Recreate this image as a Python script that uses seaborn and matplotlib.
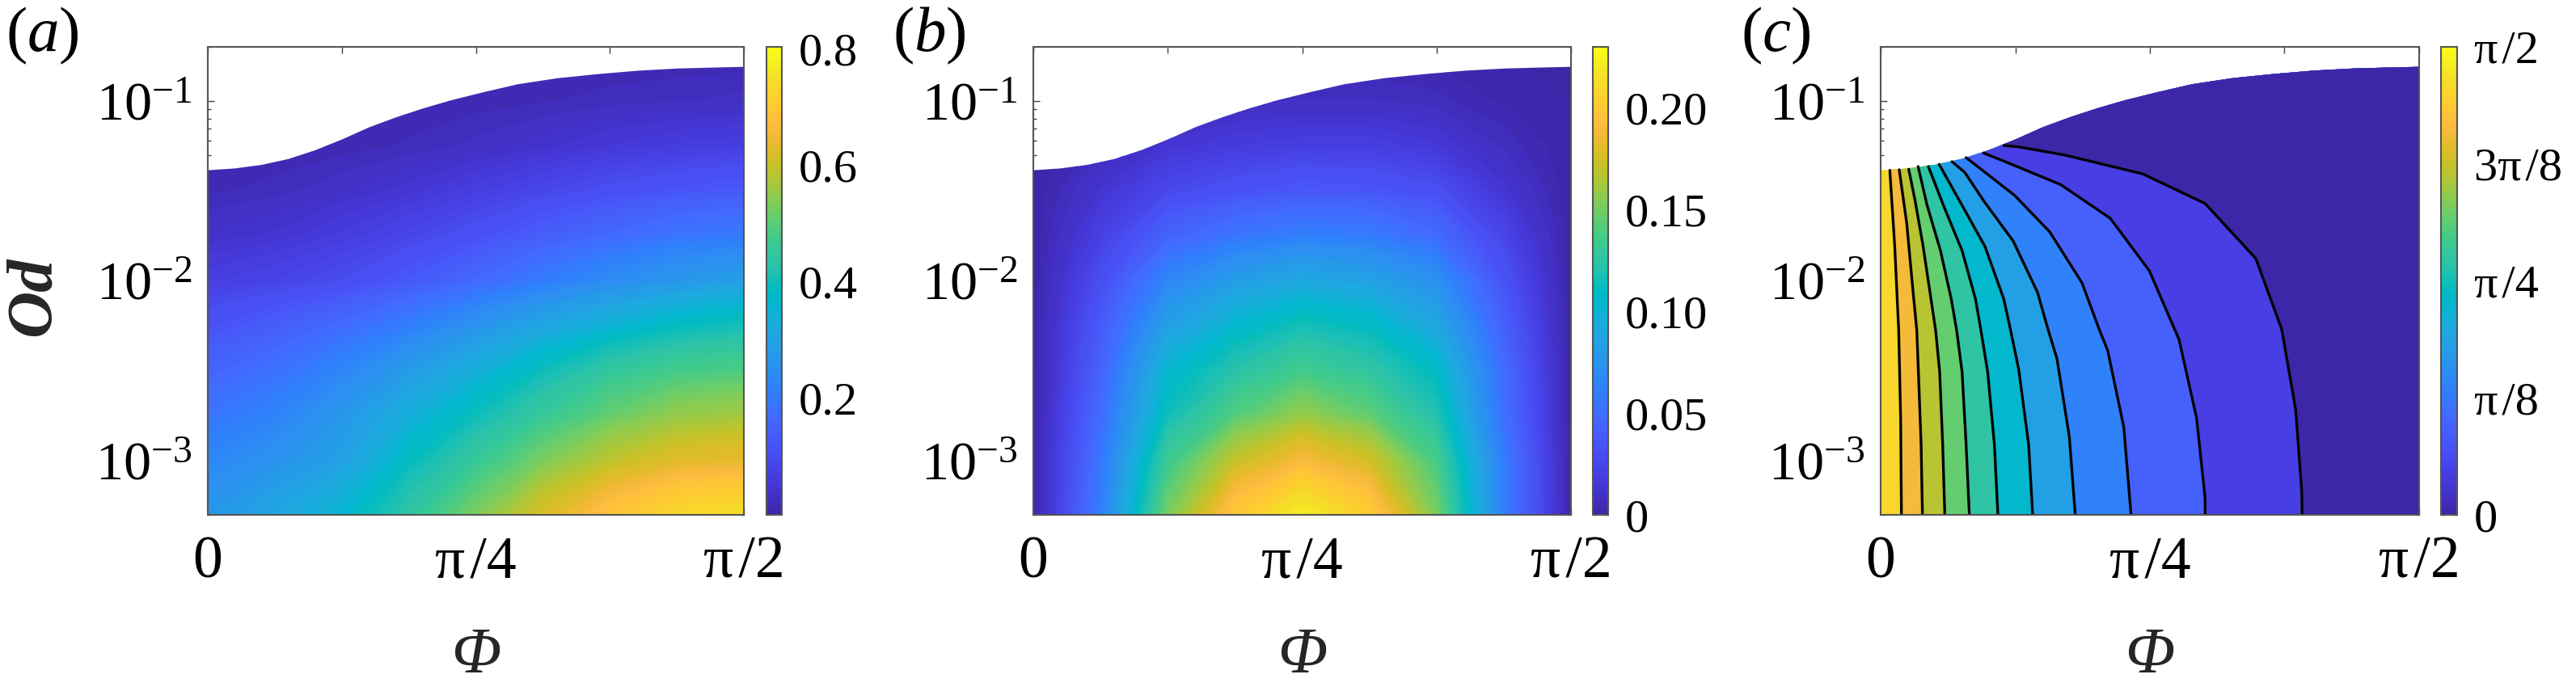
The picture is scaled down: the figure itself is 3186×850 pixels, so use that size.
import numpy as np
import matplotlib
matplotlib.use("Agg")
import matplotlib.pyplot as plt
import seaborn as sns
from matplotlib.colors import LinearSegmentedColormap, Normalize
from matplotlib.cm import ScalarMappable
from matplotlib.patches import Polygon
from matplotlib.ticker import LogLocator, NullFormatter

# ---------- data ----------
# phi is in units of pi/2, log_od is log10(Od)
grid_phi = [0, .125, .25, .375, .5, .625, .75, .875, 1]
grid_log_od = [-3.301, -3.0, -2.745, -2.495, -2.252, -2.0, -1.745, -1.495, -1.252, -1.0, -0.699]

field_a = [
    [.27, .31, .36, .44, .53, .62, .69, .735, .75],
    [.23, .255, .295, .385, .455, .53, .59, .63, .64],
    [.19, .22, .27, .335, .395, .455, .51, .55, .565],
    [.155, .18, .225, .28, .335, .395, .445, .475, .485],
    [.115, .14, .17, .21, .26, .31, .35, .385, .405],
    [.07, .082, .10, .13, .165, .205, .24, .27, .29],
    [.038, .047, .065, .085, .11, .14, .165, .19, .20],
    [.015, .022, .035, .05, .068, .088, .105, .12, .13],
    [.005, .008, .012, .02, .03, .042, .055, .065, .07],
    [.002, .003, .005, .008, .012, .017, .022, .026, .03],
    [.001, .001, .001, .002, .002, .002, .003, .003, .003],
]
field_b = [
    [0, .06, .151, .20, .222, .204, .151, .06, 0],
    [0, .055, .133, .171, .19, .175, .137, .059, 0],
    [0, .049, .114, .141, .158, .145, .12, .052, 0],
    [0, .043, .103, .122, .135, .126, .108, .049, 0],
    [0, .038, .084, .104, .116, .109, .09, .042, 0],
    [0, .03, .065, .081, .09, .085, .072, .034, 0],
    [0, .021, .043, .054, .06, .058, .048, .024, 0],
    [0, .013, .026, .032, .036, .035, .03, .014, 0],
    [0, .006, .014, .018, .02, .02, .016, .007, 0],
    [0, .002, .005, .007, .008, .008, .006, .002, 0],
    [0, 0, 0, 0, 0, 0, 0, 0, 0],
]

boundary_phi = [0, .050, .1006, .151, .201, .251, .302, .352, .402, .4525, .513,
                .578, .653, .729, .804, .879, .955, 1]
boundary_log_od = [-1.385, -1.375, -1.355, -1.322, -1.273, -1.213, -1.145, -1.090, -1.041, -.997, -.952,
                   -.907, -.873, -.850, -.831, -.819, -.813, -.810]

# contour lines of panel (c), left to right
c1_phi = [.0386, .0371, .0335, .0260, .0170]
c1_log = [-3.301, -2.761, -2.275, -1.801, -1.385]
c2_phi = [.0776, .0751, .0701, .0671, .0586, .0485, .0345]
c2_log = [-3.301, -2.910, -2.506, -2.275, -2.011, -1.682, -1.382]
c3_phi = [.1191, .1152, .1096, .1021, .0935, .0785, .0635, .0521]
c3_log = [-3.301, -2.910, -2.506, -2.275, -2.101, -1.801, -1.547, -1.379]
c4_phi = [.1647, .1587, .1512, .1411, .1311, .1111, .0860, .0695]
c4_log = [-3.301, -2.910, -2.506, -2.275, -2.101, -1.832, -1.577, -1.364]
c5_phi = [.2177, .2112, .1987, .1862, .1761, .1512, .1161, .0886]
c5_log = [-3.301, -2.910, -2.506, -2.275, -2.101, -1.832, -1.577, -1.364]
c6_phi = [.2823, .2748, .2563, .2413, .2287, .1937, .1562, .1086]
c6_log = [-3.301, -2.910, -2.491, -2.275, -2.101, -1.809, -1.607, -1.352]
c7_phi = [.3614, .3503, .3273, .3113, .2913, .2462, .1911, .1562, .1326]
c7_log = [-3.301, -2.865, -2.431, -2.275, -2.064, -1.779, -1.554, -1.397, -1.337]
c8_phi = [.4650, .4515, .4215, .4065, .3739, .3138, .2488, .1911, .1587]
c8_log = [-3.301, -2.813, -2.386, -2.275, -2.011, -1.727, -1.525, -1.390, -1.315]
c9_phi = [.6026, .6026, .5866, .5541, .4990, .4264, .3338, .2312, .1911]
c9_log = [-3.301, -3.210, -2.761, -2.326, -1.944, -1.652, -1.464, -1.337, -1.289]
c10_phi = [.7827, .7818, .7707, .7447, .6967, .6026, .4865, .3413, .2563, .2287]
c10_log = [-3.301, -3.165, -2.716, -2.268, -1.876, -1.570, -1.405, -1.300, -1.255, -1.247]

# value of each filled band of (c), in units of pi/2, left to right
band_values = [10 / 11, 9 / 11, 8 / 11, 7 / 11, 6 / 11, 5 / 11, 4 / 11, 3 / 11, 2 / 11, 1 / 11, 0]

ticks_a = [.2, .4, .6, .8]
ticklabels_a = ["0.2", "0.4", "0.6", "0.8"]
ticks_b = [0, .05, .10, .15, .20]
ticklabels_b = ["0", "0.05", "0.10", "0.15", "0.20"]
ticks_c = [0, np.pi / 8, np.pi / 4, 3 * np.pi / 8, np.pi / 2]
ticklabels_c = ["0", "π\u200a/8", "π\u200a/4", "3π\u200a/8", "π\u200a/2"]
phi_ticks = [0, np.pi / 8, np.pi / 4, 3 * np.pi / 8, np.pi / 2]
phi_ticklabels = ["0", "", "π\u200a/4", "", "π\u200a/2"]
od_ticks = [1e-3, 1e-2, 1e-1]
od_ticklabels = ["$10^{-3}$", "$10^{-2}$", "$10^{-1}$"]

# ---------- style ----------
PARULA = [[.2422, .1504, .6603], [.2504, .1650, .7076], [.2578, .1818, .7511], [.2647, .1978, .7952],
          [.2706, .2147, .8364], [.2751, .2342, .8710], [.2783, .2559, .8991], [.2803, .2782, .9221],
          [.2813, .3006, .9414], [.2810, .3228, .9579], [.2795, .3447, .9717], [.2760, .3667, .9829],
          [.2699, .3892, .9906], [.2602, .4123, .9952], [.2440, .4358, .9988], [.2206, .4603, .9973],
          [.1963, .4847, .9892], [.1834, .5074, .9798], [.1786, .5289, .9682], [.1764, .5499, .9520],
          [.1687, .5703, .9359], [.1540, .5902, .9218], [.1460, .6091, .9079], [.1380, .6276, .8973],
          [.1248, .6459, .8883], [.1113, .6635, .8763], [.0952, .6798, .8598], [.0689, .6948, .8394],
          [.0297, .7082, .8163], [.0036, .7203, .7917], [.0067, .7312, .7660], [.0433, .7411, .7394],
          [.0964, .7500, .7120], [.1408, .7584, .6842], [.1717, .7670, .6554], [.1938, .7758, .6251],
          [.2161, .7843, .5923], [.2470, .7918, .5567], [.2906, .7973, .5188], [.3406, .8008, .4789],
          [.3909, .8029, .4354], [.4456, .8024, .3909], [.5044, .7993, .3480], [.5616, .7942, .3045],
          [.6174, .7876, .2612], [.6720, .7793, .2227], [.7242, .7698, .1910], [.7738, .7598, .1646],
          [.8203, .7498, .1535], [.8634, .7406, .1596], [.9035, .7330, .1774], [.9393, .7288, .2100],
          [.9728, .7298, .2394], [.9956, .7434, .2371], [.9970, .7659, .2199], [.9952, .7861, .1999],
          [.9892, .8086, .1827], [.9786, .8316, .1726], [.9676, .8545, .1646], [.9610, .8790, .1536],
          [.9597, .9064, .1397], [.9628, .9373, .1262], [.9691, .9688, .1144], [.9769, .9839, .0805]]
cmap = LinearSegmentedColormap.from_list("parula_like", PARULA, N=256)

sns.set_theme(style="ticks")
plt.rcParams.update({
    "font.family": ["Liberation Serif", "DejaVu Serif"],
    "mathtext.fontset": "custom",
    "mathtext.rm": "Liberation Serif",
    "mathtext.it": "Liberation Serif:italic",
    "text.color": "black",
    "axes.axisbelow": True,
})
W, H = 3186, 850
EDGE = "#555555"
HALF_PI = np.pi / 2
OD_MIN, OD_MAX = 5e-4, 0.2
Y0, Y1 = 58, 637

fig = plt.figure(figsize=(W / 100, H / 100), dpi=100)


def px_axes(x0, x1, y0, y1):
    return fig.add_axes([x0 / W, 1 - y1 / H, (x1 - x0) / W, (y1 - y0) / H])


def setup_axes(ax):
    ax.set_yscale("log")
    ax.set_xlim(0, HALF_PI)
    ax.set_ylim(OD_MIN, OD_MAX)
    ax.set_xticks(phi_ticks, labels=phi_ticklabels)
    ax.set_yticks(od_ticks, labels=od_ticklabels)
    ax.yaxis.set_minor_locator(LogLocator(base=10, subs=np.arange(2, 10), numticks=20))
    ax.yaxis.set_minor_formatter(NullFormatter())
    ax.tick_params(axis="both", which="major", direction="in", length=5.8, width=1, color="#444444",
                   top=True, right=True, labelcolor="black")
    ax.tick_params(axis="x", which="major", pad=19, labelsize=53)
    ax.tick_params(axis="y", which="major", pad=14, labelsize=49)
    ax.tick_params(axis="y", which="minor", direction="in", length=3, width=1, color="#444444",
                   left=True, right=True)
    for s in ax.spines.values():
        s.set_color(EDGE)
        s.set_linewidth(1.5)
        s.set_visible(True)
    ax.set_xlabel("Φ", fontsize=58, fontstyle="italic", va="center")
    ax.xaxis.set_label_coords(0.5, -(812 - Y1) / (Y1 - Y0))
    ax.set_ylabel("")


def region_patch(ax):
    xs = [p * HALF_PI for p in boundary_phi] + [HALF_PI, 0]
    ys = [10.0 ** v for v in boundary_log_od] + [OD_MIN, OD_MIN]
    return Polygon(np.column_stack([xs, ys]), closed=True, transform=ax.transData)


def colorbar(ax_pos, vmax, ticks, labels):
    cax = px_axes(*ax_pos)
    sm = ScalarMappable(norm=Normalize(0, vmax), cmap=cmap)
    cb = fig.colorbar(sm, cax=cax)
    cb.set_ticks(ticks, labels=labels)
    cax.tick_params(axis="y", which="major", direction="in", left=True, right=True, length=3.5, width=1,
                    color="#333333", labelsize=42, labelcolor="black", pad=15)
    cb.outline.set_edgecolor(EDGE)
    cb.outline.set_linewidth(1.5)
    return cb


def field_panel(ax, field, vmax):
    ax.set_yscale("log")
    x = np.array(grid_phi) * HALF_PI
    y = 10.0 ** np.array(grid_log_od)
    cs = ax.contourf(x, y, np.array(field), levels=np.linspace(0, vmax, 90), cmap=cmap,
                     norm=Normalize(0, vmax), extend="both", zorder=1)
    cs.set_clip_path(region_patch(ax))
    setup_axes(ax)


ax_a = px_axes(257, 920, Y0, Y1)
field_panel(ax_a, field_a, 0.804)
ax_a.set_ylabel("Od", fontsize=58, fontstyle="italic", fontweight="bold", va="center")
ax_a.yaxis.set_label_coords((42 - 257) / 663, 1 - (367 - Y0) / (Y1 - Y0))
colorbar((948, 967, Y0, Y1), 0.804, ticks_a, ticklabels_a)

ax_b = px_axes(1278, 1943, Y0, Y1)
field_panel(ax_b, field_b, 0.23)
colorbar((1970, 1989, Y0, Y1), 0.23, ticks_b, ticklabels_b)

# panel (c): filled bands between the contour lines, drawn with seaborn line marks on top
ax_c = px_axes(2326, 2992, Y0, Y1)
ax_c.set_yscale("log")
contour_phi = [c1_phi, c2_phi, c3_phi, c4_phi, c5_phi, c6_phi, c7_phi, c8_phi, c9_phi, c10_phi]
contour_log = [c1_log, c2_log, c3_log, c4_log, c5_log, c6_log, c7_log, c8_log, c9_log, c10_log]
band_norm = Normalize(0, 1)
clip = region_patch(ax_c)
rect = ax_c.fill([0, HALF_PI, HALF_PI, 0], [OD_MIN, OD_MIN, OD_MAX, OD_MAX],
                 color=cmap(band_norm(band_values[0])), lw=0, zorder=1)[0]
rect.set_clip_path(clip)
for k, (ph, lg) in enumerate(zip(contour_phi, contour_log)):
    xs = [p * HALF_PI for p in ph] + [ph[-1] * HALF_PI, HALF_PI, HALF_PI]
    ys = [10.0 ** v for v in lg] + [OD_MAX, OD_MAX, OD_MIN]
    poly = ax_c.fill(xs, ys, color=cmap(band_norm(band_values[k + 1])), lw=0, zorder=1 + .01 * k)[0]
    poly.set_clip_path(clip)
for ph, lg in zip(contour_phi, contour_log):
    sns.lineplot(x=[p * HALF_PI for p in ph], y=[10.0 ** v for v in lg], sort=False, estimator=None,
                 color="black", linewidth=2.4, ax=ax_c, zorder=2, legend=False)
setup_axes(ax_c)
colorbar((3019, 3039, Y0, Y1), HALF_PI, ticks_c, ticklabels_c)

for txt, x in [(r"($\mathit{a}$)", 7), (r"($\mathit{b}$)", 1104), (r"($\mathit{c}$)", 2153)]:
    fig.text(x / W, 1 - 44 / H, txt, fontsize=57, ha="left", va="center")

fig.savefig("out.png", dpi=100, facecolor="white")
